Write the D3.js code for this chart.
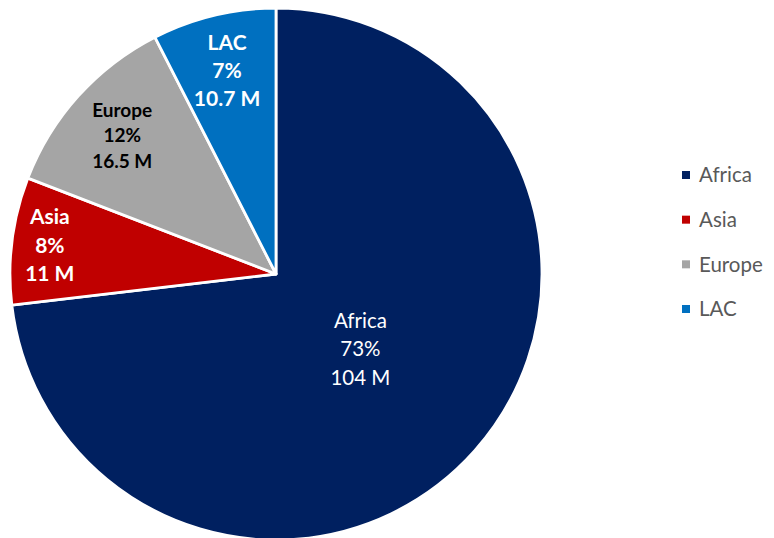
<!DOCTYPE html>
<html>
<head>
<meta charset="utf-8">
<script src="https://cdn.jsdelivr.net/npm/d3@7"></script>
<style>
html,body{margin:0;padding:0;background:#fff;}
svg{display:block;font-family:Lato,"Liberation Sans",sans-serif;}
</style>
</head>
<body>
<svg id="chart" width="774" height="538"></svg>
<script>
const categories = ["Africa", "Asia", "Europe", "LAC"];
const values = [104, 11, 16.5, 10.7];
const percentLabels = ["73%", "8%", "12%", "7%"];
const valueLabels = ["104 M", "11 M", "16.5 M", "10.7 M"];
const colors = ["#002060", "#C00000", "#A5A5A5", "#0070C0"];

const svg = d3.select("#chart");
const cx = 276, cy = 274, r = 266;
const labelStyle = {
  Africa: {rad: 113, fill: "#fff", weight: "normal", size: 20.5, lh: 28.5},
  Asia: {rad: 228, fill: "#fff", weight: "bold", size: 21, lh: 28.5},
  Europe: {rad: 207, fill: "#000", weight: "bold", size: 19, lh: 25.5},
  LAC: {rad: 209, fill: "#fff", weight: "bold", size: 21, lh: 28}
};

const data = categories.map((c, i) => ({cat: c, value: values[i], pct: percentLabels[i], val: valueLabels[i], color: colors[i]}));
const pie = d3.pie().value(d => d.value).sort(null);
const arcs = pie(data);
const arc = d3.arc().innerRadius(0).outerRadius(r);

const g = svg.append("g").attr("transform", `translate(${cx},${cy})`);
g.selectAll("path").data(arcs).enter().append("path")
  .attr("d", arc)
  .attr("fill", d => d.data.color)
  .attr("stroke", "#fff")
  .attr("stroke-width", 2.8)
  .attr("stroke-linejoin", "round");

arcs.forEach(a => {
  const st = labelStyle[a.data.cat];
  const la = d3.arc().innerRadius(st.rad).outerRadius(st.rad);
  const [x, y] = la.centroid(a);
  const t = g.append("text")
    .attr("text-anchor", "middle")
    .attr("fill", st.fill)
    .attr("font-weight", st.weight)
    .attr("font-size", st.size);
  [a.data.cat, a.data.pct, a.data.val].forEach((line, k) => {
    t.append("tspan").attr("x", x).attr("y", y + (k - 1) * st.lh).attr("dy", "0.35em").text(line);
  });
});

const legend = svg.append("g");
const ly = d3.scalePoint().domain(categories).range([175, 309]);
categories.forEach((c, i) => {
  legend.append("rect").attr("x", 682).attr("y", ly(c) - 4).attr("width", 8).attr("height", 8).attr("fill", colors[i]);
  legend.append("text").attr("x", 699).attr("y", ly(c)).attr("dy", "0.35em")
    .attr("font-size", 20.5).attr("fill", "#595959").text(c);
});
</script>
</body>
</html>
